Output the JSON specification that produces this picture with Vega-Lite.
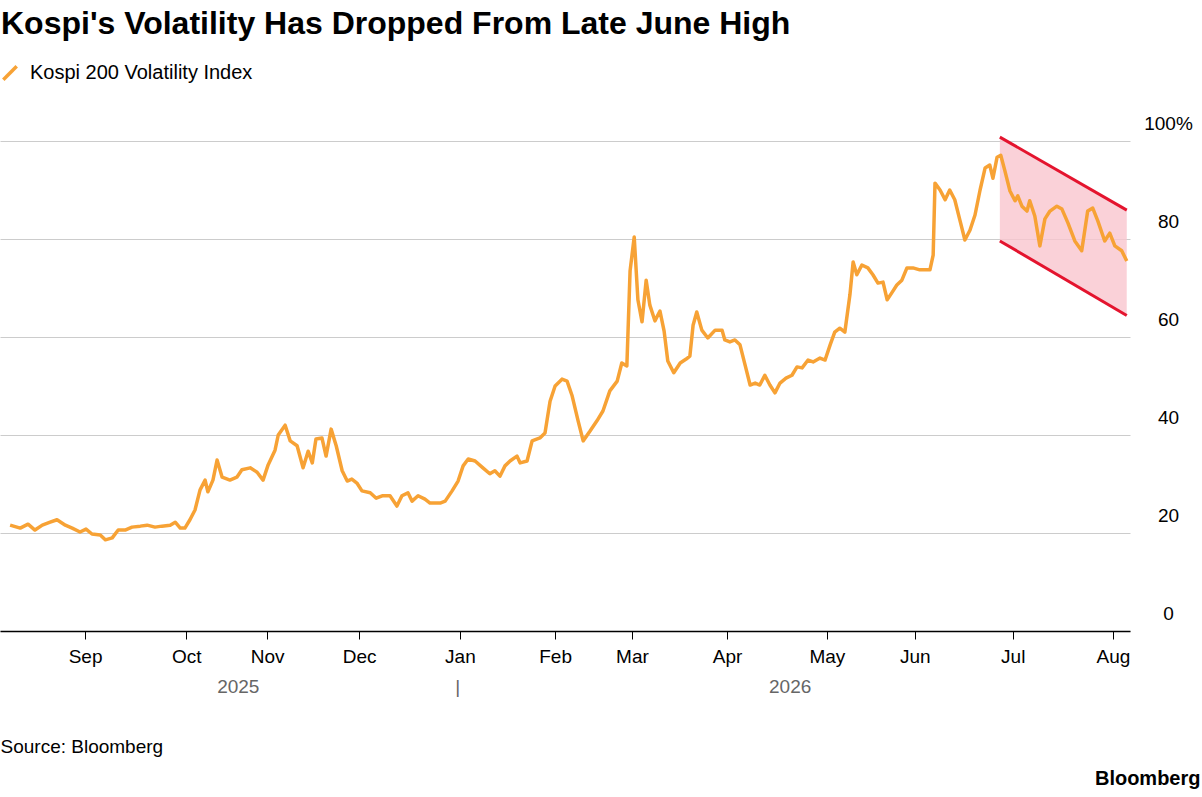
{
  "$schema": "https://vega.github.io/schema/vega-lite/v6.json",
  "width": 1130,
  "height": 490,
  "autosize": {"type": "none"},
  "padding": {"left": 0, "top": 141, "right": 72, "bottom": 166},
  "background": "white",
  "config": {"font": "Liberation Sans", "view": {"stroke": null}},
  "title": {"text": "Kospi's Volatility Has Dropped From Late June High", "anchor": "start", "frame": "group", "fontSize": 32, "fontWeight": "bold", "color": "#000", "offset": 22, "dx": 1},
  "datasets": {
    "series": [
      {"i":0,"v":21.6},{"i":2.2,"v":21.0},{"i":3.9,"v":21.8},{"i":5.4,"v":20.6},{"i":7.0,"v":21.6},{"i":8.7,"v":22.2},{"i":10.2,"v":22.7},{"i":12.0,"v":21.6},{"i":13.5,"v":21.0},{"i":15.2,"v":20.2},{"i":16.5,"v":20.8},{"i":17.8,"v":19.8},{"i":19.6,"v":19.6},{"i":20.7,"v":18.6},{"i":22.2,"v":19.0},{"i":23.5,"v":20.6},{"i":25.0,"v":20.6},{"i":26.5,"v":21.2},{"i":28.3,"v":21.4},{"i":29.8,"v":21.6},{"i":31.5,"v":21.2},{"i":33.0,"v":21.4},{"i":34.8,"v":21.6},{"i":35.9,"v":22.2},{"i":37.0,"v":21.0},{"i":38.0,"v":21.0},{"i":39.1,"v":22.7},{"i":40.2,"v":24.7},{"i":41.3,"v":28.8},{"i":42.4,"v":30.8},{"i":43.0,"v":28.4},{"i":44.1,"v":30.8},{"i":45.0,"v":34.9},{"i":46.1,"v":31.4},{"i":47.8,"v":30.8},{"i":49.3,"v":31.4},{"i":50.4,"v":32.9},{"i":52.2,"v":33.3},{"i":53.7,"v":32.4},{"i":55.0,"v":30.8},{"i":56.1,"v":33.9},{"i":57.6,"v":36.9},{"i":58.3,"v":40.0},{"i":59.8,"v":42.0},{"i":60.9,"v":38.8},{"i":62.4,"v":37.8},{"i":63.7,"v":33.3},{"i":64.8,"v":36.7},{"i":65.7,"v":34.3},{"i":66.5,"v":39.2},{"i":67.8,"v":39.4},{"i":68.7,"v":35.7},{"i":69.8,"v":41.2},{"i":70.9,"v":37.8},{"i":72.2,"v":32.7},{"i":73.3,"v":30.6},{"i":74.3,"v":31.0},{"i":75.4,"v":30.2},{"i":76.5,"v":28.6},{"i":78.3,"v":28.2},{"i":79.6,"v":27.1},{"i":80.9,"v":27.6},{"i":82.6,"v":27.6},{"i":84.1,"v":25.5},{"i":85.2,"v":27.6},{"i":86.5,"v":28.2},{"i":87.4,"v":26.5},{"i":88.7,"v":27.6},{"i":90.2,"v":26.9},{"i":91.3,"v":26.1},{"i":93.5,"v":26.1},{"i":94.6,"v":26.5},{"i":96.1,"v":28.6},{"i":97.4,"v":30.6},{"i":98.5,"v":33.7},{"i":99.6,"v":35.1},{"i":101.1,"v":34.7},{"i":102.8,"v":33.3},{"i":104.3,"v":32.1},{"i":105.4,"v":32.7},{"i":106.5,"v":31.6},{"i":107.6,"v":33.7},{"i":108.7,"v":34.7},{"i":110.2,"v":35.7},{"i":110.9,"v":34.3},{"i":112.4,"v":34.7},{"i":113.5,"v":38.8},{"i":115.2,"v":39.4},{"i":116.3,"v":40.4},{"i":117.4,"v":46.9},{"i":118.5,"v":50.0},{"i":120.0,"v":51.4},{"i":121.1,"v":51.0},{"i":122.2,"v":48.0},{"i":123.5,"v":42.9},{"i":124.6,"v":38.8},{"i":126.1,"v":40.8},{"i":127.6,"v":42.9},{"i":128.9,"v":44.9},{"i":130.4,"v":49.0},{"i":132.0,"v":51.0},{"i":133.0,"v":54.7},{"i":134.1,"v":54.1},{"i":134.8,"v":73.5},{"i":135.7,"v":80.4},{"i":136.5,"v":67.6},{"i":137.4,"v":63.1},{"i":138.3,"v":71.6},{"i":139.1,"v":66.5},{"i":140.2,"v":63.3},{"i":141.3,"v":65.3},{"i":142.2,"v":61.2},{"i":143.0,"v":55.1},{"i":144.3,"v":52.7},{"i":145.7,"v":54.7},{"i":147.0,"v":55.5},{"i":147.8,"v":56.1},{"i":148.5,"v":62.4},{"i":149.3,"v":65.1},{"i":150.4,"v":61.4},{"i":151.7,"v":59.8},{"i":153.3,"v":61.4},{"i":154.8,"v":61.4},{"i":155.4,"v":59.4},{"i":156.5,"v":59.0},{"i":157.6,"v":59.4},{"i":158.7,"v":58.4},{"i":159.8,"v":54.3},{"i":160.9,"v":50.2},{"i":162.0,"v":50.6},{"i":163.0,"v":50.2},{"i":164.1,"v":52.2},{"i":165.2,"v":50.2},{"i":166.3,"v":48.6},{"i":167.4,"v":50.6},{"i":168.7,"v":51.6},{"i":170.0,"v":52.2},{"i":171.1,"v":53.9},{"i":172.2,"v":53.7},{"i":173.5,"v":55.3},{"i":174.6,"v":54.9},{"i":176.1,"v":55.7},{"i":177.2,"v":55.3},{"i":178.3,"v":58.4},{"i":179.3,"v":61.0},{"i":180.4,"v":61.8},{"i":181.5,"v":61.0},{"i":182.6,"v":68.6},{"i":183.3,"v":75.3},{"i":184.1,"v":72.7},{"i":185.2,"v":74.7},{"i":186.5,"v":74.1},{"i":187.6,"v":72.7},{"i":188.7,"v":71.0},{"i":189.8,"v":71.2},{"i":190.7,"v":67.6},{"i":191.7,"v":69.0},{"i":192.8,"v":70.6},{"i":193.9,"v":71.6},{"i":195.0,"v":74.1},{"i":196.3,"v":74.1},{"i":197.8,"v":73.7},{"i":200.0,"v":73.7},{"i":200.7,"v":76.7},{"i":201.1,"v":91.4},{"i":202.2,"v":90.0},{"i":203.3,"v":88.0},{"i":204.3,"v":90.0},{"i":205.4,"v":88.0},{"i":206.5,"v":83.9},{"i":207.6,"v":79.8},{"i":208.7,"v":81.8},{"i":209.8,"v":84.9},{"i":210.9,"v":90.0},{"i":212.0,"v":94.5},{"i":213.0,"v":95.1},{"i":213.7,"v":92.4},{"i":214.6,"v":96.7},{"i":215.4,"v":97.1},{"i":216.3,"v":93.9},{"i":217.4,"v":89.8},{"i":218.5,"v":87.8},{"i":219.1,"v":88.8},{"i":220.0,"v":86.7},{"i":221.1,"v":85.7},{"i":221.7,"v":87.8},{"i":222.8,"v":84.7},{"i":223.9,"v":78.6},{"i":225.0,"v":84.1},{"i":226.1,"v":85.7},{"i":227.6,"v":86.7},{"i":228.7,"v":86.1},{"i":230.0,"v":83.3},{"i":231.5,"v":79.6},{"i":233.0,"v":77.6},{"i":234.3,"v":85.7},{"i":235.4,"v":86.3},{"i":236.5,"v":83.7},{"i":238.0,"v":79.6},{"i":239.1,"v":81.2},{"i":240.2,"v":78.6},{"i":241.7,"v":77.6},{"i":242.8,"v":75.5}
    ],
    "channel": [{"i": 215.2, "hi": 100.8, "lo": 79.6}, {"i": 242.8, "hi": 85.9, "lo": 64.4}],
    "years": [{"i": 49.5, "label": "2025"}, {"i": 97.2, "label": "|"}, {"i": 169.5, "label": "2026"}]
  },
  "resolve": {"axis": {"x": "independent"}},
  "layer": [
    {
      "data": {"name": "channel"},
      "mark": {"type": "area", "color": "#f9c6ce", "opacity": 0.8},
      "encoding": {
        "x": {"field": "i", "type": "quantitative", "scale": {"domain": [-2.2, 243.5], "nice": false, "zero": false},
          "axis": {"orient": "bottom", "values": [16.3, 38.3, 55.9, 75.9, 97.8, 118.5, 135.2, 155.9, 177.6, 196.7, 218, 239.8],
            "labelExpr": "['Sep','Oct','Nov','Dec','Jan','Feb','Mar','Apr','May','Jun','Jul','Aug'][indexof([16.3, 38.3, 55.9, 75.9, 97.8, 118.5, 135.2, 155.9, 177.6, 196.7, 218, 239.8], datum.value)]",
            "grid": false, "domainColor": "#000", "domainWidth": 1.5, "tickColor": "#000", "tickSize": 8, "labelFontSize": 19, "labelColor": "#000", "labelPadding": 8,
            "title": "Source: Bloomberg", "titleAnchor": "start", "titleAlign": "left", "titleX": 0, "titleY": 115, "titleBaseline": "middle", "titleFontSize": 19, "titleFontWeight": "normal", "titleColor": "#000"}},
        "y": {"field": "lo", "type": "quantitative", "scale": {"domain": [0, 100]},
          "axis": {"orient": "right", "values": [0, 20, 40, 60, 80, 100], "labelExpr": "datum.value == 100 ? '100%' : datum.label",
            "grid": true, "gridColor": "#cccccc", "domain": false, "ticks": false, "labelAlign": "center", "labelPadding": 38, "labelBaseline": "alphabetic", "labelOffset": -12, "labelFontSize": 19, "labelColor": "#000",
            "title": "Bloomberg", "titleAngle": 0, "titleX": 70, "titleY": 637, "titleAlign": "right", "titleBaseline": "middle", "titleFontSize": 20, "titleFontWeight": "bold", "titleColor": "#000"}},
        "y2": {"field": "hi"}
      }
    },
    {
      "data": {"name": "channel"},
      "mark": {"type": "line", "color": "#e4142e", "strokeWidth": 3},
      "encoding": {"x": {"field": "i", "type": "quantitative", "axis": null}, "y": {"field": "hi", "type": "quantitative"}}
    },
    {
      "data": {"name": "channel"},
      "mark": {"type": "line", "color": "#e4142e", "strokeWidth": 3},
      "encoding": {"x": {"field": "i", "type": "quantitative", "axis": null}, "y": {"field": "lo", "type": "quantitative"}}
    },
    {
      "data": {"name": "series"},
      "transform": [{"calculate": "'Kospi 200 Volatility Index'", "as": "s"}],
      "mark": {"type": "line", "strokeWidth": 3.5, "strokeJoin": "round"},
      "encoding": {
        "x": {"field": "i", "type": "quantitative", "axis": null},
        "y": {"field": "v", "type": "quantitative"},
        "color": {"field": "s", "type": "nominal", "scale": {"range": ["#f7a235"]},
          "legend": {"title": null, "orient": "none", "legendX": 0, "legendY": -78, "labelFontSize": 20, "labelLimit": 500, "labelColor": "#000", "symbolType": "M-1,1L1,-1", "symbolStrokeWidth": 3.5, "symbolSize": 180, "labelOffset": 10}}
      }
    },
    {
      "data": {"name": "years"},
      "mark": {"type": "tick", "opacity": 0},
      "encoding": {
        "x": {"field": "i", "type": "quantitative",
          "axis": {"orient": "bottom", "values": [49.5, 97.2, 169.5], "labelExpr": "['2025','|','2026'][indexof([49.5, 97.2, 169.5], datum.value)]",
            "domain": false, "ticks": false, "grid": false, "labelFontSize": 19, "labelColor": "#666", "labelPadding": 46, "title": null}}
      }
    }
  ]
}
